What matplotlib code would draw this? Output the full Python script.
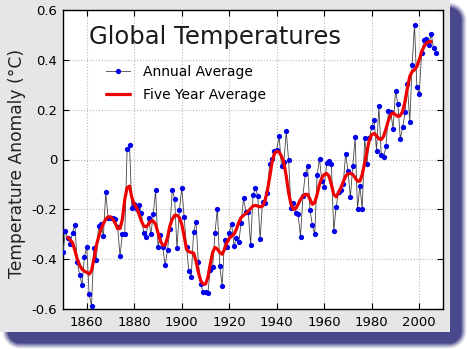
import numpy as np
import matplotlib
matplotlib.use("Agg")
import matplotlib.pyplot as plt
from matplotlib.patches import Rectangle

plt.rcParams["axes.unicode_minus"] = False
plt.rcParams["font.family"] = ["DejaVu Sans"]

W, H = 467, 349

# annual global temperature anomaly, 1850..2007 (one row per decade)
years = np.arange(1850, 2008)
annual = [
    -0.373, -0.287, -0.317, -0.340, -0.293, -0.264, -0.410, -0.464, -0.503, -0.393,
    -0.350, -0.540, -0.587, -0.357, -0.405, -0.267, -0.260, -0.307, -0.131, -0.236,
    -0.233, -0.233, -0.240, -0.270, -0.387, -0.300, -0.300, 0.043, 0.057, -0.196,
    -0.180, -0.200, -0.183, -0.213, -0.296, -0.310, -0.233, -0.300, -0.220, -0.123,
    -0.350, -0.304, -0.353, -0.424, -0.363, -0.280, -0.123, -0.157, -0.357, -0.204,
    -0.113, -0.229, -0.353, -0.447, -0.470, -0.290, -0.250, -0.413, -0.500, -0.533,
    -0.530, -0.536, -0.444, -0.433, -0.293, -0.197, -0.427, -0.507, -0.324, -0.353,
    -0.293, -0.257, -0.347, -0.317, -0.333, -0.253, -0.156, -0.209, -0.209, -0.344,
    -0.144, -0.113, -0.147, -0.320, -0.171, -0.173, -0.133, -0.019, 0.003, 0.036,
    0.040, 0.093, -0.027, -0.011, 0.113, -0.004, -0.193, -0.176, -0.213, -0.220,
    -0.310, -0.147, -0.060, -0.027, -0.203, -0.264, -0.300, -0.063, 0.003, -0.087,
    -0.109, -0.016, -0.008, -0.019, -0.287, -0.191, -0.129, -0.123, -0.100, 0.024,
    -0.047, -0.151, -0.027, 0.089, -0.197, -0.107, -0.200, 0.087, -0.020, 0.087,
    0.130, 0.160, 0.036, 0.213, 0.020, 0.009, 0.053, 0.193, 0.190, 0.123,
    0.276, 0.224, 0.083, 0.129, 0.189, 0.303, 0.149, 0.380, 0.540, 0.289,
    0.263, 0.427, 0.480, 0.483, 0.460, 0.504, 0.449, 0.429,
]

# five year average, 1852..2005
years5 = np.arange(1852, 2006)
five_year = [
    -0.313, -0.323, -0.333, -0.365, -0.400, -0.425, -0.440, -0.448, -0.453, -0.460,
    -0.447, -0.400, -0.347, -0.310, -0.280, -0.257, -0.240, -0.230, -0.230, -0.240,
    -0.256, -0.277, -0.277, -0.240, -0.160, -0.113, -0.107, -0.153, -0.180, -0.193,
    -0.220, -0.247, -0.267, -0.270, -0.260, -0.247, -0.247, -0.260, -0.293, -0.327,
    -0.344, -0.344, -0.313, -0.267, -0.240, -0.224, -0.224, -0.233, -0.260, -0.307,
    -0.360, -0.370, -0.373, -0.376, -0.407, -0.453, -0.487, -0.500, -0.500, -0.473,
    -0.420, -0.373, -0.353, -0.360, -0.373, -0.380, -0.360, -0.333, -0.317, -0.307,
    -0.300, -0.280, -0.253, -0.233, -0.224, -0.217, -0.207, -0.197, -0.187, -0.184,
    -0.187, -0.190, -0.187, -0.167, -0.127, -0.073, -0.013, 0.024, 0.033, 0.030,
    0.013, -0.013, -0.067, -0.133, -0.180, -0.200, -0.197, -0.180, -0.160, -0.147,
    -0.140, -0.140, -0.160, -0.180, -0.173, -0.140, -0.100, -0.073, -0.060, -0.056,
    -0.067, -0.100, -0.140, -0.150, -0.133, -0.113, -0.090, -0.067, -0.057, -0.056,
    -0.060, -0.073, -0.087, -0.087, -0.060, -0.013, 0.033, 0.080, 0.100, 0.104,
    0.096, 0.083, 0.080, 0.093, 0.123, 0.157, 0.180, 0.187, 0.180, 0.173,
    0.176, 0.193, 0.233, 0.287, 0.333, 0.353, 0.360, 0.373, 0.400, 0.433,
    0.453, 0.467, 0.473, 0.473,
]

xticks = [1860, 1880, 1900, 1920, 1940, 1960, 1980, 2000]
yticks = [-0.6, -0.4, -0.2, 0, 0.2, 0.4, 0.6]

fig = plt.figure(figsize=(W / 100, H / 100), dpi=100)
fig.patch.set_facecolor("white")

# background: grey card with a soft blue shadow, drawn in pixel coords
bg = fig.add_axes([0, 0, 1, 1])
bg.set_xlim(0, W); bg.set_ylim(H, 0); bg.axis("off")
yy, xx = np.mgrid[0:H, 0:W] + 0.5
def rrect_dist(x0, y0, x1, y1, r):
    qx = np.maximum(np.maximum(x0 + r - xx, xx - (x1 - r)), 0)
    qy = np.maximum(np.maximum(y0 + r - yy, yy - (y1 - r)), 0)
    return np.hypot(qx, qy) - r
d = rrect_dist(8, 8, 461, 343, 12)
sh_a = np.clip(1 - d / 6.0, 0, 1) ** 1.2
img = np.ones((H, W, 4))
img[..., :3] = np.array([0x48, 0x48, 0x8a]) / 255.0
img[..., 3] = sh_a
bg.imshow(img, extent=[0, W, H, 0], interpolation="bilinear", zorder=0)
bg.add_patch(Rectangle((-5, -5), 455, 337, fc="#e6e6e9", ec="none", zorder=1))

ax = fig.add_axes([63 / W, 1 - 309 / H, 380 / W, 299 / H])
ax.set_facecolor("white")
ax.plot(years, annual, color="#444444", lw=0.6, marker="o", ms=3.8,
        mfc="#0000ee", mec="none", label="Annual Average", zorder=3)
ax.plot(years5, five_year, color="#ee0000", lw=2.3, solid_capstyle="round",
        label="Five Year Average", zorder=4)

ax.set_xlim(1850, 2010)
ax.set_ylim(-0.6, 0.6)
ax.set_xticks(xticks)
ax.set_yticks(yticks)
ax.set_yticklabels(["%g" % v for v in yticks])
ax.tick_params(direction="in", top=True, right=True, length=4, width=0.8,
               labelsize=9.5, colors="black")
ax.tick_params(axis="x", pad=5)
ax.tick_params(axis="y", pad=4)
ax.grid(True, color="#b8b8b8", ls=":", lw=0.8)
for s in ax.spines.values():
    s.set_linewidth(1.0)

ax.set_ylabel("Temperature Anomaly (°C)", fontsize=12.3, color="#222222")
ax.yaxis.set_label_coords(-0.097, 0.487)

ax.text(0.068, 0.91, "Global Temperatures", transform=ax.transAxes,
        fontsize=17.5, ha="left", va="center", color="#1a1a1a")
ax.legend(loc="upper left", bbox_to_anchor=(0.113, 0.815), frameon=False,
          borderpad=0, borderaxespad=0, handlelength=1.7, handletextpad=1.0,
          labelspacing=0.6, numpoints=1, fontsize=10)

fig.savefig("out.png", dpi=100, facecolor="white")
